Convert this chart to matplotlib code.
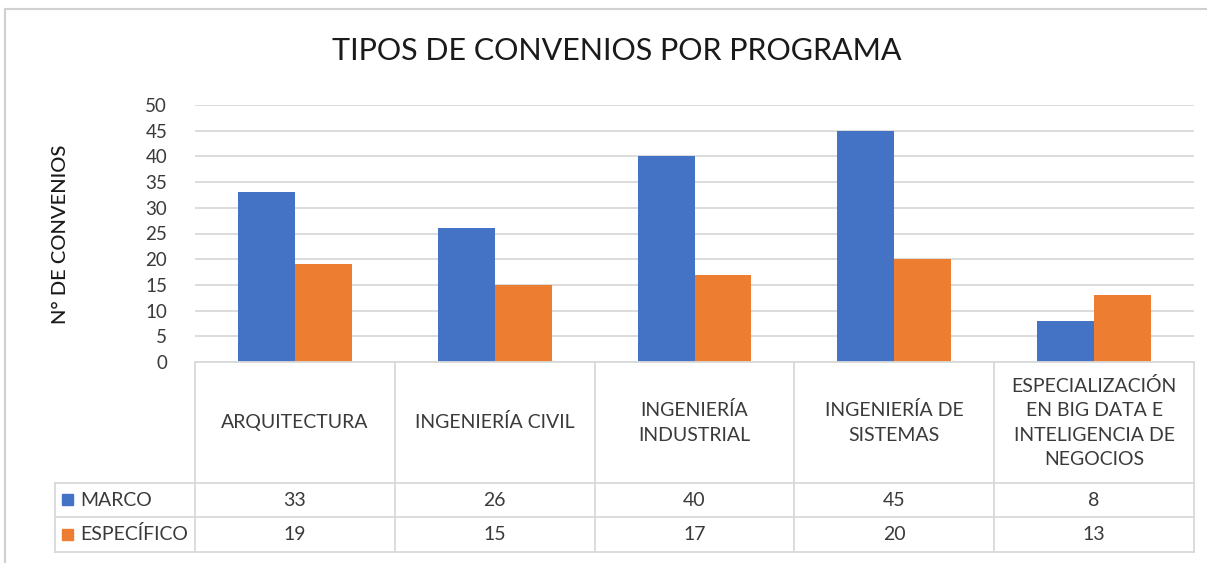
#!/usr/bin/env python3

import numpy as np
import matplotlib
matplotlib.use("Agg")
import matplotlib.pyplot as plt
from matplotlib.lines import Line2D
from matplotlib.patches import Rectangle


# ------------------------------------------------------------
# DATA
# ------------------------------------------------------------

programas = [
    "ARQUITECTURA",
    "INGENIERÍA CIVIL",
    "INGENIERÍA\nINDUSTRIAL",
    "INGENIERÍA DE\nSISTEMAS",
    "ESPECIALIZACIÓN\nEN BIG DATA E\nINTELIGENCIA DE\nNEGOCIOS",
]
series = ["MARCO", "ESPECÍFICO"]
marco = [33, 26, 40, 45, 8]
especifico = [19, 15, 17, 20, 13]
y_ticks = [0, 5, 10, 15, 20, 25, 30, 35, 40, 45, 50]

COLORS = ["#4472C4", "#ED7D31"]
GRID = "#d9d9d9"
TEXT = "#3a3a3a"

W, H = 1207, 563
plt.rcParams["font.family"] = ["Lato", "DejaVu Sans"]


def fx(px):
    return px / W


def fy(py):
    return 1 - py / H


# ------------------------------------------------------------
# FIGURE
# ------------------------------------------------------------

fig = plt.figure(figsize=(W / 100, H / 100), dpi=100)

# outer frame
fig.add_artist(Line2D([fx(5), fx(1207)], [fy(9), fy(9)], color="#d0d0d0", lw=1.5))
fig.add_artist(Line2D([fx(5), fx(5)], [fy(9), fy(563)], color="#d0d0d0", lw=1.5))

L, R, T, B = 195, 1194, 105, 362
ax = fig.add_axes([fx(L), fy(B), fx(R) - fx(L), fy(T) - fy(B)])

x = np.arange(len(programas))
w = 0.285
ax.bar(x - w / 2, marco, width=w, color=COLORS[0], zorder=3)
ax.bar(x + w / 2, especifico, width=w, color=COLORS[1], zorder=3)

ax.set_xlim(-0.5, len(programas) - 0.5)
ax.set_ylim(0, 50)
ax.set_yticks(y_ticks)
ax.set_yticklabels([str(t) for t in y_ticks], fontsize=13.5, color=TEXT)
ax.tick_params(axis="y", length=0, pad=20)
ax.set_xticks([])
for s in ax.spines.values():
    s.set_visible(False)
ax.yaxis.grid(True, color=GRID, lw=1.3, zorder=0)

fig.text(fx(61), fy(234), "N° DE CONVENIOS", rotation=90, ha="center",
         va="center", fontsize=14.5, color="#1a1a1a", fontweight="medium")

fig.text(fx(617), fy(51), "TIPOS DE CONVENIOS POR PROGRAMA", ha="center",
         va="center", fontsize=22, color="#1a1a1a")

# ------------------------------------------------------------
# DATA TABLE
# ------------------------------------------------------------

col_w = (R - L) / len(programas)
rows = [B, 483, 517, 552]
left_col = 55


def hline(x0, x1, y):
    fig.add_artist(Line2D([fx(x0), fx(x1)], [fy(y), fy(y)], color=GRID, lw=1.3))


def vline(xp, y0, y1):
    fig.add_artist(Line2D([fx(xp), fx(xp)], [fy(y0), fy(y1)], color=GRID, lw=1.3))


hline(L, R, rows[0])
for yy in rows[1:]:
    hline(left_col, R, yy)
vline(left_col, rows[1], rows[3])
for i in range(len(programas) + 1):
    vline(L + i * col_w, rows[0], rows[3])

for i, name in enumerate(programas):
    cx = L + (i + 0.5) * col_w
    fig.text(fx(cx), fy((rows[0] + rows[1]) / 2), name, ha="center", va="center",
             fontsize=14, color=TEXT, linespacing=1.52)
    for r, vals in enumerate([marco, especifico]):
        fig.text(fx(cx), fy((rows[r + 1] + rows[r + 2]) / 2), str(vals[i]),
                 ha="center", va="center", fontsize=14, color=TEXT)

for r, name in enumerate(series):
    cy = (rows[r + 1] + rows[r + 2]) / 2
    fig.add_artist(Rectangle((fx(62), fy(cy + 5)), fx(11), fy(0) - fy(11),
                             color=COLORS[r]))
    fig.text(fx(80), fy(cy), name, ha="left", va="center", fontsize=14, color=TEXT)

fig.savefig("out.png", dpi=100)
plt.close(fig)
